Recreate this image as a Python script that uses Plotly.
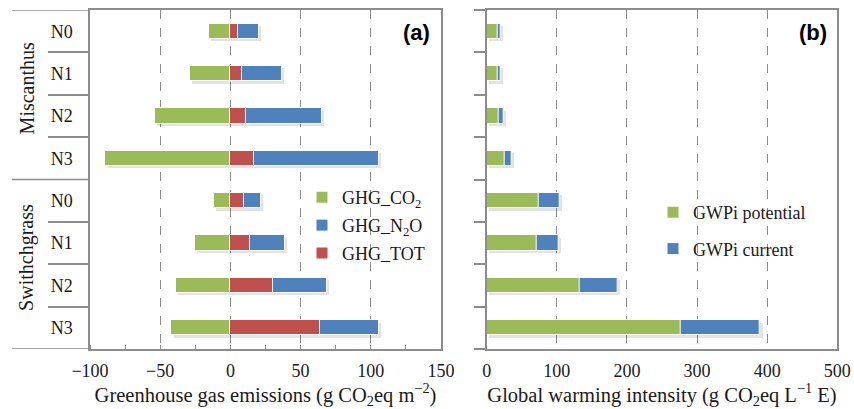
import plotly.graph_objects as go

# Data: rows ordered top to bottom (Miscanthus N0..N3, then Switchgrass N0..N3)
crops = ["Miscanthus", "Swithchgrass"]
levels = ["N0", "N1", "N2", "N3"]
ghg_co2 = [-15, -29, -54, -89, -12, -25, -39, -42]
ghg_n2o = [20.5, 37, 65, 106, 22, 39, 69, 106]
ghg_tot = [5.5, 8, 11, 17, 10, 14, 30, 64]
gwpi_potential = [15, 15, 17.5, 25, 74, 72, 132, 276]
gwpi_current = [20.5, 20.5, 24, 35.5, 104, 102, 187, 390]
x_ticks_a = [-100, -50, 0, 50, 100, 150]
x_ticks_b = [0, 100, 200, 300, 400, 500]

W, H = 854, 409
rows = list(range(len(crops) * len(levels)))
row_labels = levels * len(crops)
bounds = [r + 0.5 for r in rows[:-1]]
inner_bounds = [b for b in bounds if b != len(levels) - 0.5]

GREEN, BLUE, RED = "#9BBB59", "#4F81BD", "#C0504D"
FRAME = "#8c8c8c"
TXT = "#1a1a1a"
SERIF = "Liberation Serif"
BAR_W = 0.36
SHADOW = "rgba(0,0,0,0.11)"
SHADOW_SHIFT = 0.055


def px_x(p):
    return p / W


def px_y(p):
    return 1 - p / H


fig = go.Figure()

# ---- panel (a): greenhouse gas emissions ----
fig.add_trace(go.Bar(
    y=rows, base=[c + 1.5 for c in ghg_co2], x=[n - c for n, c in zip(ghg_n2o, ghg_co2)],
    orientation="h", width=BAR_W, offset=-BAR_W / 2 + SHADOW_SHIFT,
    marker=dict(color=SHADOW, line=dict(width=0)), showlegend=False,
    hoverinfo="skip", xaxis="x", yaxis="y"))
fig.add_trace(go.Bar(
    y=rows, x=ghg_co2, orientation="h", width=BAR_W, name="GHG_CO<sub>2</sub>",
    marker=dict(color=GREEN, line=dict(color="white", width=1)),
    legend="legend", legendgroup="co2", legendrank=1, xaxis="x", yaxis="y"))
fig.add_trace(go.Bar(
    y=rows, x=ghg_n2o, orientation="h", width=BAR_W, name="GHG_N<sub>2</sub>O",
    marker=dict(color=BLUE, line=dict(color="white", width=1)),
    legend="legend", legendgroup="n2o", legendrank=2, xaxis="x", yaxis="y"))
fig.add_trace(go.Bar(
    y=rows, x=ghg_tot, orientation="h", width=BAR_W, name="GHG_TOT",
    marker=dict(color=RED, line=dict(color="white", width=1)),
    legend="legend", legendgroup="tot", legendrank=3, xaxis="x", yaxis="y"))

# ---- panel (b): global warming intensity ----
fig.add_trace(go.Bar(
    y=rows, base=[3] * len(rows), x=gwpi_current,
    orientation="h", width=BAR_W, offset=-BAR_W / 2 + SHADOW_SHIFT,
    marker=dict(color=SHADOW, line=dict(width=0)), showlegend=False,
    hoverinfo="skip", xaxis="x2", yaxis="y2"))
fig.add_trace(go.Bar(
    y=rows, x=gwpi_current, orientation="h", width=BAR_W, name="GWPi current",
    marker=dict(color=BLUE, line=dict(color="white", width=1)),
    legend="legend2", legendgroup="cur", legendrank=2, xaxis="x2", yaxis="y2"))
fig.add_trace(go.Bar(
    y=rows, x=gwpi_potential, orientation="h", width=BAR_W, name="GWPi potential",
    marker=dict(color=GREEN, line=dict(color="white", width=1)),
    legend="legend2", legendgroup="pot", legendrank=1, xaxis="x2", yaxis="y2"))

tick_font = dict(family=SERIF, size=18, color=TXT)
title_font = dict(family=SERIF, size=20.5, color=TXT)
y_dom = [px_y(349), px_y(10)]

common_x = dict(
    showgrid=True, griddash="dash", gridcolor=FRAME, gridwidth=1,
    showline=True, linecolor=FRAME, linewidth=1.5, mirror=True,
    zeroline=False, ticks="", tickfont=tick_font, automargin=False,
    ticklabelstandoff=5,
    title_font=title_font, title_standoff=18,
)

fig.update_layout(
    width=W, height=H,
    margin=dict(l=0, r=0, t=0, b=0, pad=0),
    paper_bgcolor="white", plot_bgcolor="white",
    barmode="overlay", bargap=0,
    font=dict(family=SERIF, color=TXT),
    xaxis=dict(
        common_x, domain=[px_x(90), px_x(441)], range=[-100, 150], anchor="y",
        tickvals=x_ticks_a,
        ticktext=[str(v).replace("-", "\u2212") for v in x_ticks_a],
        minor=dict(dtick=25, tick0=0, ticks="inside", ticklen=4,
                   tickcolor=FRAME, showgrid=False),
        title_text="Greenhouse gas emissions (g CO<sub>2</sub>eq m<sup>\u22122</sup>)",
    ),
    yaxis=dict(
        domain=y_dom, range=[len(rows) - 0.5, -0.5], anchor="x", automargin=False,
        tickvals=rows, ticktext=row_labels, ticks="", tickfont=tick_font,
        ticklabelstandoff=12,
        showline=True, linecolor=FRAME, linewidth=1.5, mirror=True,
        showgrid=False, zeroline=False,
        minor=dict(tickvals=inner_bounds, ticks="outside", ticklen=40,
                   tickcolor=FRAME, tickwidth=1.5, showgrid=False),
    ),
    xaxis2=dict(
        common_x, domain=[px_x(486.7), px_x(837.3)], range=[0, 500], anchor="y2",
        tickvals=x_ticks_b, ticktext=[str(v) for v in x_ticks_b],
        title_text="Global warming intensity (g CO<sub>2</sub>eq L<sup>\u22121</sup> E)",
    ),
    yaxis2=dict(
        domain=y_dom, range=[len(rows) - 0.5, -0.5], anchor="x2", automargin=False,
        tickvals=[r - 0.5 for r in rows] + [len(rows) - 0.5],
        showticklabels=False, ticks="outside", ticklen=11,
        tickcolor=FRAME, tickwidth=1.5,
        showline=True, linecolor=FRAME, linewidth=1.5, mirror=True,
        showgrid=False, zeroline=False,
    ),
    legend=dict(
        x=px_x(302), y=px_y(179), xanchor="left", yanchor="top",
        bgcolor="rgba(0,0,0,0)", font=dict(family=SERIF, size=18, color=TXT),
        tracegroupgap=1.5, traceorder="grouped",
    ),
    legend2=dict(
        x=px_x(653), y=px_y(194), xanchor="left", yanchor="top",
        bgcolor="rgba(0,0,0,0)", font=dict(family=SERIF, size=18, color=TXT),
        tracegroupgap=10, traceorder="grouped",
    ),
)

# Category-label frame: top, bottom and group divider lines
for yb in [-0.5, len(levels) - 0.5, len(rows) - 0.5]:
    fig.add_shape(type="line", xref="paper", yref="y",
                  x0=px_x(12), x1=px_x(90), y0=yb, y1=yb,
                  line=dict(color=FRAME, width=1.5))

# Crop group labels
for i, crop in enumerate(crops):
    mid = i * len(levels) + (len(levels) - 1) / 2 - 0.15
    fig.add_annotation(text=crop, xref="paper", yref="y", x=px_x(27), y=mid,
                       xanchor="center", yanchor="middle",
                       textangle=-90, showarrow=False,
                       font=dict(family=SERIF, size=20, color=TXT))

# Panel tags
for tag, xp in [("(a)", 416), ("(b)", 813)]:
    fig.add_annotation(text="<b>%s</b>" % tag, xref="paper", yref="paper",
                       x=px_x(xp), y=px_y(32), xanchor="center", yanchor="middle",
                       showarrow=False,
                       font=dict(family="Liberation Sans", size=22, color="black"))

fig.write_html("out.html")
